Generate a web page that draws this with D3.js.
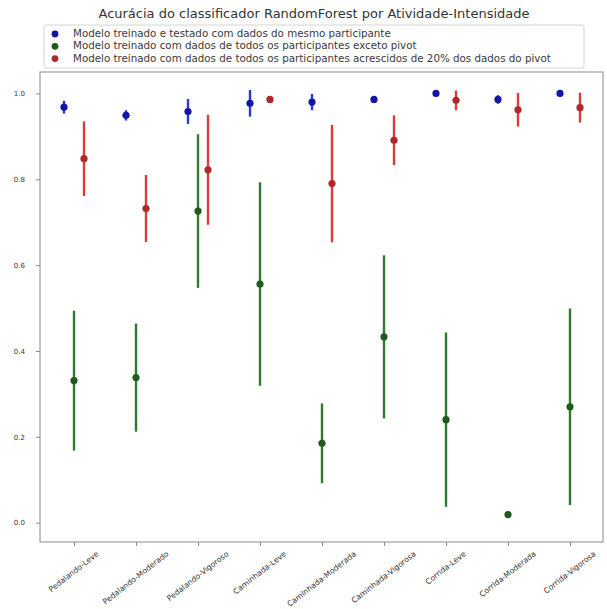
<!DOCTYPE html>
<html>
<head>
<meta charset="utf-8">
<script src="https://cdn.jsdelivr.net/npm/d3@7"></script>
<style>
  html, body { margin: 0; padding: 0; background: #fff; }
  svg { display: block; font-family: "DejaVu Sans", sans-serif; }
</style>
</head>
<body>
<svg id="chart" width="607" height="609"></svg>
<script>
// Activity-intensity classes
const categories = [
  "Pedalando-Leve", "Pedalando-Moderado", "Pedalando-Vigoroso",
  "Caminhada-Leve", "Caminhada-Moderada", "Caminhada-Vigorosa",
  "Corrida-Leve", "Corrida-Moderada", "Corrida-Vigorosa"
];

// Mean accuracy and standard deviation per scenario
const sameMean = [0.968, 0.949, 0.958, 0.977, 0.980, 0.986, 1.000, 0.986, 1.000];
const sameStd  = [0.015, 0.012, 0.029, 0.031, 0.019, 0.008, 0.000, 0.010, 0.000];

const exceptMean = [0.331, 0.338, 0.726, 0.556, 0.185, 0.433, 0.240, 0.019, 0.270];
const exceptStd  = [0.163, 0.126, 0.179, 0.237, 0.093, 0.190, 0.203, 0.000, 0.229];

const plusMean = [0.848, 0.732, 0.822, 0.986, 0.790, 0.891, 0.984, 0.962, 0.967];
const plusStd  = [0.087, 0.078, 0.128, 0.008, 0.137, 0.058, 0.023, 0.039, 0.035];

const seriesNames = [
  "Modelo treinado e testado com dados do mesmo participante",
  "Modelo treinado com dados de todos os participantes exceto pivot",
  "Modelo treinado com dados de todos os participantes acrescidos de 20% dos dados do pivot"
];

const yTicks = [0.0, 0.2, 0.4, 0.6, 0.8, 1.0];
const titleText = "Acurácia do classificador RandomForest por Atividade-Intensidade";

const series = [
  { name: seriesNames[0], mean: sameMean,   std: sameStd,   marker: "#1414a8", bar: "#2a3ad8", dx: -10 },
  { name: seriesNames[1], mean: exceptMean, std: exceptStd, marker: "#1f5a1f", bar: "#2f7a2f", dx: 0 },
  { name: seriesNames[2], mean: plusMean,   std: plusStd,   marker: "#b02828", bar: "#d83c3c", dx: 10 }
];

const svg = d3.select("#chart");
const frame = { left: 40, right: 603, top: 72, bottom: 542 };

const x = d3.scalePoint().domain(categories).range([74, 570]);
const y = d3.scaleLinear().domain([-0.045, 1.05]).range([frame.bottom, frame.top]);

// Title
svg.append("text")
  .attr("x", 314).attr("y", 18)
  .attr("text-anchor", "middle")
  .attr("font-size", 13)
  .attr("fill", "#333")
  .text(titleText);

// Axes frame
svg.append("rect")
  .attr("x", frame.left).attr("y", frame.top)
  .attr("width", frame.right - frame.left)
  .attr("height", frame.bottom - frame.top)
  .attr("fill", "none")
  .attr("stroke", "#8a8a8a")
  .attr("stroke-width", 1);

// Y axis
const yAxis = d3.axisLeft(y)
  .tickValues(yTicks)
  .tickFormat(d3.format(".1f"))
  .tickSize(4)
  .tickPadding(11);
const gy = svg.append("g").attr("transform", `translate(${frame.left},0)`).call(yAxis);
gy.select(".domain").remove();
gy.selectAll(".tick line").attr("stroke", "#8a8a8a");
gy.selectAll(".tick text").attr("font-size", 7).attr("fill", "#333")
  .attr("font-family", "DejaVu Sans, sans-serif");

// X axis
const xAxis = d3.axisBottom(x).tickSize(4).tickFormat("");
const gx = svg.append("g").attr("transform", `translate(0,${frame.bottom})`).call(xAxis);
gx.select(".domain").remove();
gx.selectAll(".tick line").attr("stroke", "#8a8a8a");

// Rotated category labels, centred under each tick
const angle = 38;
const rad = angle * Math.PI / 180;
const labels = svg.append("g");
categories.forEach(c => {
  const t = labels.append("text")
    .attr("font-size", 7.7)
    .attr("fill", "#333")
    .attr("text-anchor", "middle")
    .attr("dominant-baseline", "middle")
    .text(c);
  const w = t.node().getComputedTextLength();
  const half = (w * Math.sin(rad) + 8 * Math.cos(rad)) / 2;
  t.attr("transform", `translate(${x(c)},${frame.bottom + 8 + half}) rotate(${-angle})`);
});

// Error bars and markers
series.forEach(s => {
  const g = svg.append("g");
  g.selectAll("line")
    .data(categories)
    .join("line")
    .attr("x1", (c) => x(c) + s.dx)
    .attr("x2", (c) => x(c) + s.dx)
    .attr("y1", (c, i) => y(s.mean[i] - s.std[i]))
    .attr("y2", (c, i) => y(s.mean[i] + s.std[i]))
    .attr("stroke", s.bar)
    .attr("stroke-width", 2.4);
  g.selectAll("circle")
    .data(categories)
    .join("circle")
    .attr("cx", (c) => x(c) + s.dx)
    .attr("cy", (c, i) => y(s.mean[i]))
    .attr("r", 3.6)
    .attr("fill", s.marker);
});

// Legend
const legend = svg.append("g");
legend.append("rect")
  .attr("x", 44).attr("y", 25)
  .attr("width", 540).attr("height", 43)
  .attr("rx", 2)
  .attr("fill", "#fff")
  .attr("stroke", "#d4d4d4");
series.forEach((s, i) => {
  const yy = 34 + i * 12.3;
  legend.append("circle").attr("cx", 55).attr("cy", yy).attr("r", 3.4).attr("fill", s.marker);
  legend.append("text")
    .attr("x", 73).attr("y", yy)
    .attr("dominant-baseline", "middle")
    .attr("font-size", 10.3)
    .attr("fill", "#3a3a3a")
    .text(s.name);
});
</script>
</body>
</html>
